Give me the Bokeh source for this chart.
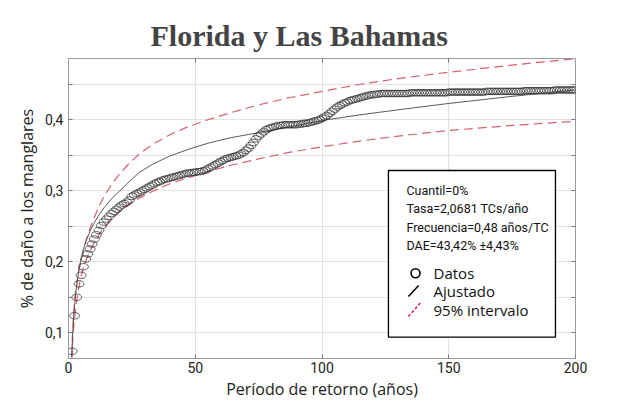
from bokeh.plotting import figure
from bokeh.models import Range1d, FixedTicker, LinearAxis, Label
from bokeh.embed import file_html
from bokeh.resources import INLINE

# Empirical return periods (years) and mangrove damage fraction
periodo = [1.45, 2.4, 3.25, 4.15, 5.0, 5.9, 6.8, 7.6, 8.5, 9.3, 10.2, 11, 12, 13, 14,
           15, 16, 17, 18, 19,
           20, 21, 22, 23, 24, 25, 26, 27, 28, 29, 30, 31, 32, 33, 34, 35, 36, 37, 38, 39,
           40, 41, 42, 43, 44, 45, 46, 47, 48, 49, 50, 51, 52, 53, 54, 55, 56, 57, 58, 59,
           60, 61, 62, 63, 64, 65, 66, 67, 68, 69, 70, 71, 72, 73, 74, 75, 76, 77, 78, 79,
           80, 81, 82, 83, 84, 85, 86, 87, 88, 89, 90, 91, 92, 93, 94, 95, 96, 97, 98, 99,
           100, 101, 102, 103, 104, 105, 106, 107, 108, 109, 110, 111, 112, 113, 114, 115,
           116, 117, 118, 119, 120, 121, 122, 123, 124, 125, 126, 127, 128, 129, 130, 131,
           132, 133, 134, 135, 136, 137, 138, 139, 140, 141, 142, 143, 144, 145, 146, 147,
           148, 149, 150, 151, 152, 153, 154, 155, 156, 157, 158, 159, 160, 161, 162, 163,
           164, 165, 166, 167, 168, 169, 170, 171, 172, 173, 174, 175, 176, 177, 178, 179,
           180, 181, 182, 183, 184, 185, 186, 187, 188, 189, 190, 191, 192, 193, 194, 195,
           196, 197, 198, 199, 200]
dano = [0.074, 0.124, 0.150, 0.169, 0.181, 0.193, 0.204, 0.211, 0.218, 0.225, 0.232, 0.238,
        0.244, 0.251, 0.256, 0.260, 0.264, 0.268, 0.271, 0.274,
        # 20-39
        0.277, 0.280, 0.282, 0.284, 0.287, 0.292, 0.294, 0.296, 0.298, 0.300,
        0.302, 0.304, 0.306, 0.308, 0.310, 0.312, 0.313, 0.315, 0.316, 0.317,
        # 40-59
        0.318, 0.319, 0.320, 0.321, 0.322, 0.323, 0.324, 0.325, 0.325, 0.326,
        0.326, 0.327, 0.327, 0.328, 0.329, 0.331, 0.333, 0.335, 0.337, 0.339,
        # 60-79
        0.341, 0.343, 0.345, 0.346, 0.347, 0.348, 0.349, 0.350, 0.352, 0.354,
        0.357, 0.360, 0.364, 0.368, 0.373, 0.377, 0.380, 0.383, 0.386, 0.388,
        # 80-99
        0.389, 0.390, 0.391, 0.392, 0.392, 0.393, 0.393, 0.393, 0.393, 0.393,
        0.393, 0.394, 0.394, 0.395, 0.395, 0.396, 0.397, 0.398, 0.399, 0.400,
        # 100-119
        0.402, 0.404, 0.406, 0.409, 0.412, 0.415, 0.418, 0.420, 0.422, 0.424,
        0.425, 0.427, 0.428, 0.429, 0.430, 0.431, 0.432, 0.433, 0.434, 0.435,
        # 120-139
        0.435, 0.436, 0.436, 0.437, 0.437, 0.437, 0.437, 0.437, 0.437, 0.437,
        0.437, 0.437, 0.437, 0.437, 0.437, 0.438, 0.438, 0.438, 0.438, 0.438,
        # 140-159
        0.438, 0.438, 0.438, 0.438, 0.438, 0.438, 0.438, 0.438, 0.438, 0.438,
        0.439, 0.439, 0.439, 0.439, 0.439, 0.439, 0.439, 0.439, 0.439, 0.439,
        # 160-179
        0.439, 0.439, 0.439, 0.439, 0.439, 0.440, 0.440, 0.440, 0.440, 0.440,
        0.440, 0.440, 0.440, 0.440, 0.440, 0.440, 0.440, 0.440, 0.440, 0.440,
        # 180-200
        0.441, 0.441, 0.441, 0.441, 0.441, 0.441, 0.441, 0.441, 0.441, 0.441,
        0.441, 0.441, 0.442, 0.442, 0.442, 0.442, 0.442, 0.442, 0.442, 0.442, 0.442]

# Fitted return-level curve with its 95% confidence band
t_ajuste = [1.3, 1.6, 2, 2.5, 3, 4, 5, 6, 7, 8.5, 10, 12, 14, 17, 20, 24, 28, 33, 40, 47,
            55, 63, 75, 87, 100, 115, 130, 150, 175, 200]
ajustado = [0.066, 0.095, 0.120, 0.143, 0.160, 0.186, 0.205, 0.219, 0.230, 0.243, 0.254,
            0.266, 0.276, 0.289, 0.299, 0.313, 0.326, 0.337, 0.349, 0.358, 0.367, 0.374,
            0.382, 0.390, 0.399, 0.407, 0.414, 0.423, 0.433, 0.442]
superior = [0.068, 0.100, 0.126, 0.148, 0.165, 0.186, 0.203, 0.218, 0.231, 0.247, 0.261,
            0.278, 0.292, 0.309, 0.323, 0.339, 0.352, 0.365, 0.379, 0.390, 0.400, 0.409,
            0.421, 0.431, 0.440, 0.450, 0.458, 0.467, 0.477, 0.486]
inferior = [0.062, 0.085, 0.105, 0.125, 0.140, 0.163, 0.180, 0.193, 0.203, 0.215, 0.226,
            0.238, 0.248, 0.260, 0.270, 0.281, 0.290, 0.299, 0.310, 0.318, 0.327, 0.335,
            0.345, 0.354, 0.362, 0.370, 0.377, 0.385, 0.392, 0.398]

x_ticks = [0, 50, 100, 150, 200]
y_ticks = [0.1, 0.15, 0.2, 0.25, 0.3, 0.35, 0.4, 0.45]
y_labels = {0.1: "0,1", 0.15: "", 0.2: "0,2", 0.25: "", 0.3: "0,3", 0.35: "", 0.4: "0,4", 0.45: ""}

info_lines = ["Cuantil=0%", "Tasa=2,0681 TCs/año", "Frecuencia=0,48 años/TC", "DAE=43,42% ±4,43%"]
legend_items = ["Datos", "Ajustado", "95% intervalo"]

RED = "#d8606e"
GRID = "#e2e2e2"
NARROW = "Roboto"
SANS = "Open Sans"

p = figure(width=629, height=404, x_range=Range1d(0, 200), y_range=Range1d(0.0638, 0.4863),
           output_backend="svg", toolbar_location=None,
           min_border_left=68, min_border_right=54, min_border_top=58, min_border_bottom=46)

p.title.text = "Florida y Las Bahamas"
p.title.text_font = "Liberation Serif"
p.title.text_font_style = "bold"
p.title.text_font_size = "30px"
p.title.align = "left"
p.title.offset = 82
p.title.standoff = 14

p.outline_line_color = "#9a9a9a"
p.background_fill_color = "white"

# axes
for ax in (p.xaxis[0], p.yaxis[0]):
    ax.axis_line_color = "#9a9a9a"
    ax.major_tick_in = 4
    ax.major_tick_out = 0
    ax.minor_tick_line_color = None
    ax.major_tick_line_color = "#777777"
    ax.major_label_text_font = NARROW
    ax.major_label_text_font_size = "14px"
    ax.major_label_text_color = "#222222"
    ax.axis_label_text_font = SANS
    ax.axis_label_text_font_style = "normal"
    ax.axis_label_text_color = "#222222"

p.xaxis.ticker = FixedTicker(ticks=x_ticks)
p.xaxis.major_label_standoff = 3
p.xaxis.axis_label = "Período de retorno (años)"
p.xaxis.axis_label_text_font_size = "16px"
p.xaxis.axis_label_standoff = 2

p.yaxis.ticker = FixedTicker(ticks=y_ticks)
p.yaxis.major_label_overrides = y_labels
p.yaxis.major_label_standoff = 5
p.yaxis.axis_label = "% de daño a los manglares"
p.yaxis.axis_label_text_font_size = "16px"
p.yaxis.axis_label_standoff = 4

top = LinearAxis(ticker=FixedTicker(ticks=[50, 100, 150]), axis_line_color=None,
                 major_tick_in=4, major_tick_out=0, minor_tick_line_color=None,
                 major_tick_line_color="#777777", major_label_text_font_size="1px",
                 major_label_text_color=None)
right = LinearAxis(ticker=FixedTicker(ticks=y_ticks), axis_line_color=None,
                   major_tick_in=4, major_tick_out=0, minor_tick_line_color=None,
                   major_tick_line_color="#777777", major_label_text_font_size="1px",
                   major_label_text_color=None)
p.add_layout(top, "above")
p.add_layout(right, "right")

p.xgrid.ticker = FixedTicker(ticks=[50, 100, 150])
p.ygrid.ticker = FixedTicker(ticks=y_ticks)
p.xgrid.grid_line_color = GRID
p.ygrid.grid_line_color = GRID

# confidence band and fit
p.line(t_ajuste, superior, line_color=RED, line_width=1.2, line_dash="9 5")
p.line(t_ajuste, inferior, line_color=RED, line_width=1.2, line_dash="9 5")
p.line(t_ajuste, ajustado, line_color="#5a5a5a", line_width=1)

# empirical points
p.ellipse(x=periodo, y=dano, width=10, height=6.5, width_units="screen", height_units="screen",
          fill_color=None, line_color="#333333", line_width=1, line_alpha=0.75)

# statistics / legend box, drawn over the curves
p.quad(left=[126.2], right=[192.1], top=[0.3286], bottom=[0.0938],
       fill_color="white", line_color="black", line_width=1.3)

for i, txt in enumerate(info_lines):
    p.add_layout(Label(x=133.3, y=0.3004 - i * 0.0258, text=txt, text_font=NARROW,
                       text_font_size="12.5px", text_baseline="middle", text_color="#111111"))

legend_y = [0.1839, 0.1586, 0.1328]
for txt, yy in zip(legend_items, legend_y):
    p.add_layout(Label(x=144.0, y=yy, text=txt, text_font=SANS, text_font_size="15px",
                       text_baseline="middle", text_color="#111111"))

p.ellipse(x=[136.9], y=[legend_y[0]], width=9, height=9, width_units="screen",
          height_units="screen", fill_color=None, line_color="black", line_width=1.6)
p.line([134.1, 138.1], [0.1511, 0.1666], line_color="black", line_width=1.6)
p.line([134.1, 138.9], [0.1229, 0.1426], line_color="#e0205a", line_width=1.6,
       line_dash="3 2")

open("out.html", "w").write(file_html(p, INLINE))
